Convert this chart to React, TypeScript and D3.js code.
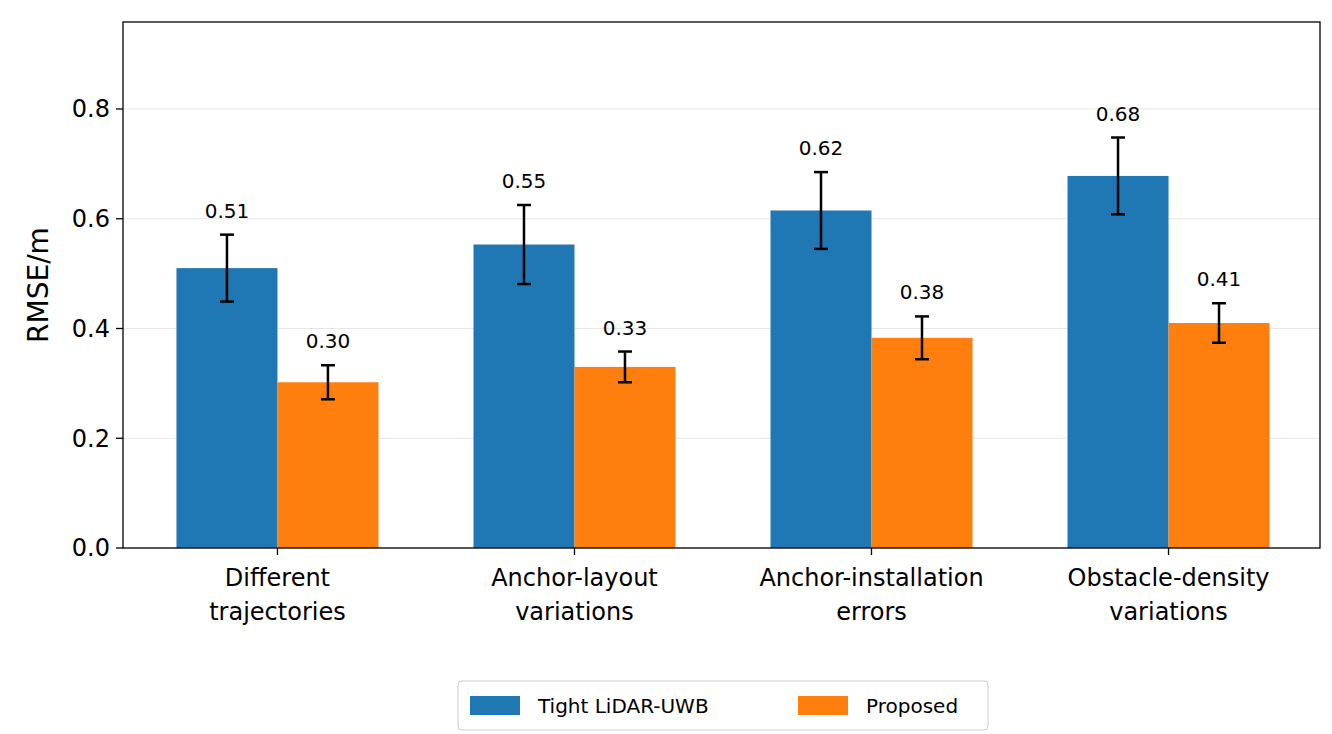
import React from "react";
import * as d3 from "d3";

const categories = [["Different", "trajectories"], ["Anchor-layout", "variations"], ["Anchor-installation", "errors"], ["Obstacle-density", "variations"]];
const tightVals = [0.51, 0.553, 0.615, 0.678];
const tightErr = [0.061, 0.072, 0.07, 0.07];
const propVals = [0.302, 0.33, 0.383, 0.41];
const propErr = [0.031, 0.028, 0.039, 0.036];
const labelsT = ["0.51", "0.55", "0.62", "0.68"];
const labelsP = ["0.30", "0.33", "0.38", "0.41"];
const yTicks = [0, 0.2, 0.4, 0.6, 0.8];
const BLUE = "#1f77b4", ORANGE = "#ff7f0e";

export default function App() {
  const L = 115, R = 1312, T = 14, B = 540;
  const x = d3.scaleLinear().domain([-0.52, 3.51]).range([L, R]);
  const y = d3.scaleLinear().domain([0, 0.9585]).range([B, T]);
  const bw = x(0.34) - x(0);
  const font = "DejaVu Sans";
  const series = [
    { v: tightVals, e: tightErr, lab: labelsT, c: BLUE, off: -1 },
    { v: propVals, e: propErr, lab: labelsP, c: ORANGE, off: 0 },
  ];
  return (
    <svg width={1316} height={726} style={{ display: "block" }} fontFamily={font}>
      <rect x={0} y={0} width={1316} height={726} fill="#fff" />
      {yTicks.map((t) => (
        <g key={t}>
          <line x1={L} x2={R} y1={y(t)} y2={y(t)} stroke="#e6e6e6" strokeWidth={1} />
          <line x1={L - 7} x2={L} y1={y(t)} y2={y(t)} stroke="#000" strokeWidth={1.3} />
          <text x={L - 13} y={y(t)} dy="0.35em" textAnchor="end" fontSize={24}>{t.toFixed(1)}</text>
        </g>
      ))}
      {series.map((s, si) =>
        s.v.map((v, i) => {
          const x0 = x(i) + s.off * bw;
          const cx = x0 + bw / 2;
          return (
            <g key={si + "-" + i}>
              <rect x={x0} y={y(v)} width={bw} height={B - y(v)} fill={s.c} />
              <line x1={cx} x2={cx} y1={y(v + s.e[i])} y2={y(v - s.e[i])} stroke="#000" strokeWidth={2.5} />
              <line x1={cx - 7} x2={cx + 7} y1={y(v + s.e[i])} y2={y(v + s.e[i])} stroke="#000" strokeWidth={2.5} />
              <line x1={cx - 7} x2={cx + 7} y1={y(v - s.e[i])} y2={y(v - s.e[i])} stroke="#000" strokeWidth={2.5} />
              <text x={cx} y={y(v + s.e[i]) - 17} textAnchor="middle" fontSize={20}>{s.lab[i]}</text>
            </g>
          );
        })
      )}
      <rect x={L} y={T} width={R - L} height={B - T} fill="none" stroke="#000" strokeWidth={1.3} />
      {categories.map((c, i) => (
        <g key={i}>
          <line x1={x(i)} x2={x(i)} y1={B} y2={B + 7} stroke="#000" strokeWidth={1.3} />
          <text x={x(i)} y={578} textAnchor="middle" fontSize={24}>{c[0]}</text>
          <text x={x(i)} y={612} textAnchor="middle" fontSize={24}>{c[1]}</text>
        </g>
      ))}
      <text transform={`translate(40,${(T + B) / 2}) rotate(-90)`} textAnchor="middle" fontSize={28}>RMSE/m</text>
      <rect x={450} y={673} width={530} height={49} rx={4} fill="#fff" stroke="#ccc" />
      <rect x={462} y={688} width={50} height={19} fill={BLUE} />
      <text x={530} y={698} dy="0.35em" fontSize={20}>Tight LiDAR-UWB</text>
      <rect x={790} y={688} width={50} height={19} fill={ORANGE} />
      <text x={858} y={698} dy="0.35em" fontSize={20}>Proposed</text>
    </svg>
  );
}
